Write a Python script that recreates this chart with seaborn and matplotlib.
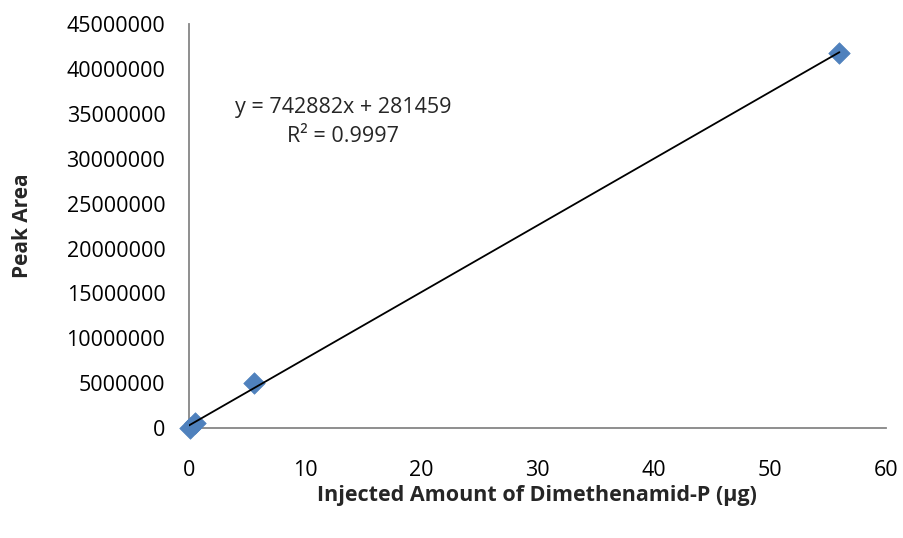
import numpy as np
import pandas as pd
import matplotlib
matplotlib.use("Agg")
import matplotlib.pyplot as plt
import seaborn as sns

# Calibration standards
amount_ug = [0.056, 0.56, 5.6, 56.0]
peak_area = [40000, 500000, 5000000, 41800000]

# Linear trendline coefficients
slope = 742882
intercept = 281459
r_squared = 0.9997

x_ticks = [0, 10, 20, 30, 40, 50, 60]
y_ticks = list(range(0, 45000001, 5000000))

sns.set_theme(style="white")
plt.rcParams['font.family'] = ['Open Sans', 'DejaVu Sans']

df = pd.DataFrame({"amount": amount_ug, "area": peak_area})

fig = plt.figure(figsize=(9.04, 5.38), dpi=100)
ax = fig.add_axes([0.209, 0.2045, 0.771, 0.7505])

sns.scatterplot(data=df, x="amount", y="area", ax=ax, marker="D", s=120,
                color="#4F81BD", edgecolor="#4F81BD", linewidth=0.5, zorder=3,
                clip_on=False)

xl = np.array([0, max(amount_ug)])
sns.lineplot(x=xl, y=slope * xl + intercept, ax=ax, color="black",
             linewidth=1.3, zorder=4)

ax.set_xlim(0, 60)
ax.set_ylim(0, 45000000)
ax.set_xticks(x_ticks)
ax.set_yticks(y_ticks)
ax.set_xticklabels([str(v) for v in x_ticks])
ax.set_yticklabels([str(v) for v in y_ticks])
ax.tick_params(axis="both", labelsize=15.5, colors="black", length=7,
               width=1.2, direction="out")
ax.tick_params(axis="both", color="#868686")
ax.tick_params(axis="x", pad=16)
ax.tick_params(axis="y", pad=10)

for side in ["top", "right"]:
    ax.spines[side].set_visible(False)
for side in ["left", "bottom"]:
    ax.spines[side].set_color("#868686")
    ax.spines[side].set_linewidth(1.3)

ax.set_xlabel("Injected Amount of Dimethenamid-P (µg)", fontsize=15.5,
              fontweight="bold", labelpad=3)
ax.set_ylabel("Peak Area", fontsize=15, fontweight="bold", labelpad=24)

ax.text(13.3, 34100000,
        f"y = {slope}x + {intercept}\nR² = {r_squared}",
        fontsize=15.5, ha="center", va="center", linespacing=1.5)

fig.savefig("out.png", dpi=100)
